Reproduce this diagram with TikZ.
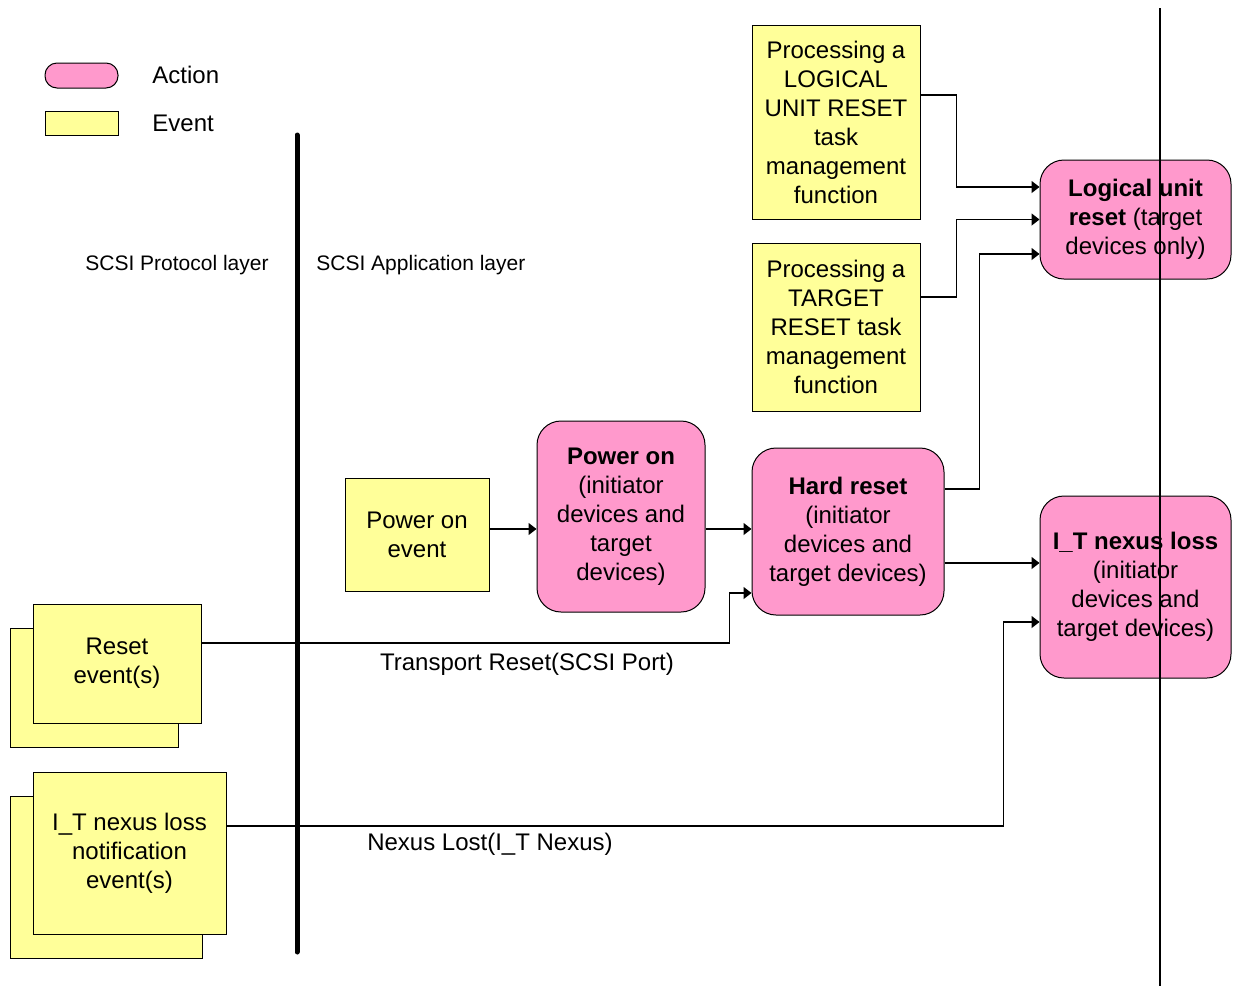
\documentclass[tikz,border=0pt]{standalone}
\usepackage{fontspec}
\setmainfont{Liberation Sans}
\usetikzlibrary{arrows.meta}
\definecolor{acpink}{HTML}{FF99CC}
\definecolor{evyellow}{HTML}{FFFF99}
\tikzset{
  every node/.style={font=\fontsize{12}{14.5}\selectfont},
  eventbox/.style={draw=black, fill=evyellow, line width=0.5pt, align=center, inner sep=0pt},
  actionbox/.style={draw=black, fill=acpink, line width=0.5pt, align=center, inner sep=0pt, rounded corners=12pt},
  conn/.style={line width=0.7pt, -{Triangle[length=4pt,width=6pt]}},
  lbl/.style={inner sep=0pt},
  small/.style={font=\fontsize{10.5}{12.5}\selectfont, inner sep=0pt}
}
\begin{document}
\begin{tikzpicture}[x=0.5pt,y=-0.5pt]
\useasboundingbox (0,0) rectangle (1236,986);
% legend
\node[actionbox, rounded corners=6pt, minimum width=36.5pt, minimum height=12.5pt] (legA) at (81.5,75.5) {};
\node[lbl, anchor=west] (legAt) at (152,75) {Action};
\node[eventbox, minimum width=36.5pt, minimum height=12pt] (legE) at (81.5,123) {};
\node[lbl, anchor=west] (legEt) at (152,123) {Event};
% layer labels
\node[small] (proto) at (177,265) {SCSI Protocol layer};
\node[small, anchor=west] (appl) at (316,265) {SCSI Application layer};
% event boxes
\node[eventbox, minimum width=84pt, minimum height=97pt] (lurp) at (836,122) {Processing a\\LOGICAL\\UNIT RESET\\task\\management\\function};
\node[eventbox, minimum width=84pt, minimum height=84pt] (tgtp) at (836,327) {Processing a\\TARGET\\RESET task\\management\\function};
\node[eventbox, minimum width=72pt, minimum height=56.5pt] (poe) at (417,534.5) {Power on\\event};
% stacked event boxes
\node[eventbox, minimum width=84pt, minimum height=59.5pt] (rsb) at (94,687.5) {};
\node[eventbox, minimum width=84pt, minimum height=59.5pt] (rs) at (117,663.5) {Reset\\event(s)};
\node[eventbox, minimum width=96pt, minimum height=81pt] (itnb) at (106,877) {};
\node[eventbox, minimum width=96.5pt, minimum height=81pt] (itnot) at (129.5,853) {I\_T nexus loss\\notification\\event(s)};
% action boxes
\node[actionbox, minimum width=84pt, minimum height=95.5pt] (poa) at (621,516.5) {\textbf{Power on}\\(initiator\\devices and\\target\\devices)};
\node[actionbox, minimum width=96pt, minimum height=83.5pt] (hard) at (848,531.5) {\textbf{Hard reset}\\(initiator\\devices and\\target devices)};
\node[actionbox, minimum width=95.5pt, minimum height=59.5pt] (lur) at (1135.5,219.5) {\textbf{Logical unit}\\\textbf{reset} (target\\devices only)};
\node[actionbox, minimum width=95.5pt, minimum height=91pt] (itn) at (1135.5,587) {\textbf{I\_T nexus loss}\\(initiator\\devices and\\target devices)};
% connectors
\draw[conn] ([yshift=13.5pt]lurp.east) -- ++(36,0) |- ([yshift=16.25pt]lur.west);
\draw[conn] ([yshift=15pt]tgtp.east) -- ++(36,0) |- (lur.west);
\draw[conn] ([yshift=21.25pt]hard.east) -- ++(35,0) |- ([yshift=-17.25pt]lur.west);
\draw[conn] ([yshift=-15.75pt]hard.east) -- ([yshift=-15.75pt]hard.east -| itn.west);
\draw[conn] ([yshift=2.75pt]poe.east) -- ([yshift=2.75pt]poe.east -| poa.west);
\draw[conn] ([yshift=-6.25pt]poa.east) -- ([yshift=-6.25pt]poa.east -| hard.west);
\draw[conn] ([yshift=10.25pt]rs.east) -- ++(528,0) |- ([yshift=-30.75pt]hard.west);
\draw[conn] ([yshift=13.5pt]itnot.east) -- ++(777,0) |- ([yshift=-17.5pt]itn.west);
\node[lbl] (trl) at (527,664) {Transport Reset(SCSI Port)};
\node[lbl] (nll) at (490,844) {Nexus Lost(I\_T Nexus)};
% layer lines
\coordinate (t1) at (297,135);
\coordinate (t2) at (297,952);
\draw[line width=2.5pt, line cap=round] (t1) -- (t2);
\coordinate (v1) at (1160,8);
\coordinate (v2) at (1160,986);
\draw[line width=1pt] (v1) -- (v2);
\end{tikzpicture}
\end{document}
